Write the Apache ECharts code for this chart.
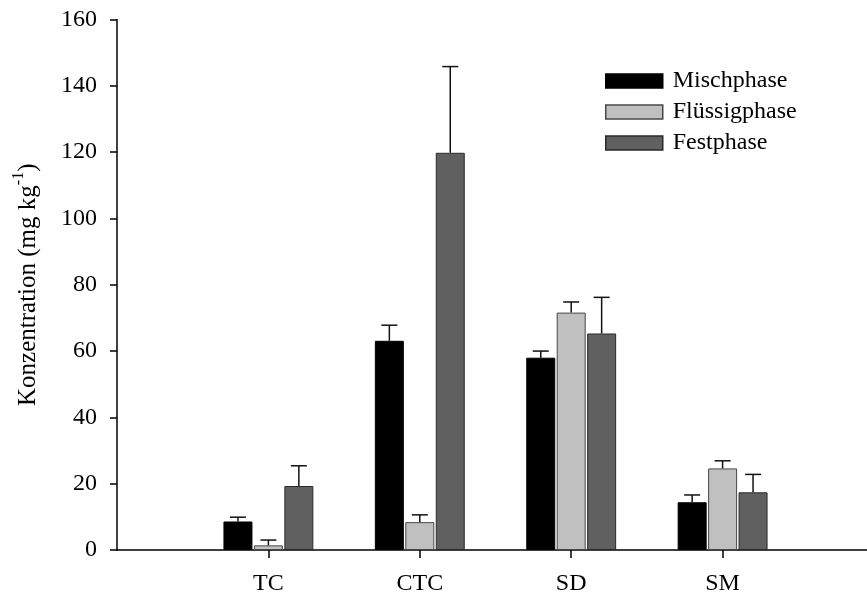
<!DOCTYPE html>
<html>
<head>
<meta charset="utf-8">
<script src="https://cdn.jsdelivr.net/npm/echarts@6/dist/echarts.min.js"></script>
<style>
  html, body { margin: 0; padding: 0; background: #fff; }
  #chart { width: 867px; height: 599px; }
</style>
</head>
<body>
<div id="chart"></div>
<script>
// Kategorien (leere Plätze links/rechts wie im Original)
const categories = ['', 'TC', 'CTC', 'SD', 'SM', ''];
const seriesNames = ['Mischphase', 'Flüssigphase', 'Festphase'];
// Mittelwerte je Kategorie (TC, CTC, SD, SM)
const misch = [8.6, 63.1, 58.0, 14.4];
const fluessig = [1.4, 8.4, 71.6, 24.6];
const fest = [19.3, 119.8, 65.3, 17.4];
// Fehlerbalken (nur nach oben)
const mischErr = [1.3, 4.7, 2.0, 2.2];
const fluessigErr = [1.6, 2.2, 3.2, 2.3];
const festErr = [6.1, 26.0, 10.9, 5.4];
const yTicks = [0, 20, 40, 60, 80, 100, 120, 140, 160];

const values = [misch, fluessig, fest];
const errors = [mischErr, fluessigErr, festErr];
const colors = ['#000000', '#c0c0c0', '#606060'];
const borders = ['#000000', '#484848', '#2a2a2a'];

const BAR_W = 29;
const GAP = 0.05;

const font = 'Liberation Serif';
const myChart = echarts.init(document.getElementById('chart'));

const barSeries = values.map((vals, k) => ({
    name: seriesNames[k],
    type: 'bar',
    barWidth: BAR_W,
    barGap: (GAP * 100) + '%',
    data: vals.map((v, i) => [i + 1, v]),
    itemStyle: {color: colors[k], borderColor: borders[k], borderWidth: 1},
    emphasis: {disabled: true},
    z: 2
}));

// Fehlerbalken als custom series, x-Versatz passend zur Balkengruppe
const errSeries = values.map((vals, k) => ({
    type: 'custom',
    name: seriesNames[k] + '_err',
    data: vals.map((v, i) => [i + 1, v, errors[k][i]]),
    z: 3,
    silent: true,
    renderItem: function (params, api) {
        const c = api.value(0);
        const v = api.value(1);
        const e = api.value(2);
        const p0 = api.coord([c, v]);
        const p1 = api.coord([c, v + e]);
        const total = 3 * BAR_W + 2 * GAP * BAR_W;
        const x = p0[0] - total / 2 + k * BAR_W * (1 + GAP) + BAR_W / 2;
        const capHalf = 8;
        const style = {stroke: '#111', lineWidth: 1.5};
        return {
            type: 'group',
            children: [
                {type: 'line', shape: {x1: x, y1: p0[1], x2: x, y2: p1[1]}, style: style},
                {type: 'line', shape: {x1: x - capHalf, y1: p1[1], x2: x + capHalf, y2: p1[1]}, style: style}
            ]
        };
    }
}));

myChart.setOption({
    animation: false,
    textStyle: {fontFamily: font, color: '#000'},
    grid: {left: 117, right: -7, top: 19.5, bottom: 49, containLabel: false, outerBoundsMode: 'none'},
    legend: {
        orient: 'vertical',
        left: 600,
        top: 64,
        icon: 'rect',
        itemWidth: 57,
        itemHeight: 14,
        itemGap: 7,
        data: seriesNames,
        itemStyle: {borderWidth: 1.5},
        textStyle: {fontFamily: font, fontSize: 24, color: '#000', padding: [0, 0, 0, 5]}
    },
    xAxis: {
        type: 'category',
        data: categories,
        boundaryGap: false,
        axisLine: {lineStyle: {color: '#000', width: 1.5}},
        axisTick: {
            length: 8,
            lineStyle: {color: '#000', width: 1.5},
            interval: (idx, val) => val !== ''
        },
        axisLabel: {
            fontFamily: font, fontSize: 24, color: '#000', margin: 22,
            interval: 0
        },
        splitLine: {show: false}
    },
    yAxis: {
        type: 'value',
        min: yTicks[0],
        max: yTicks[yTicks.length - 1],
        interval: 20,
        name: '{a|Konzentration (mg kg}{s|-1}{a|)}',
        nameLocation: 'middle',
        nameGap: 76,
        nameRotate: 90,
        nameTextStyle: {
            rich: {
                a: {fontFamily: font, fontSize: 25, color: '#000', lineHeight: 30, verticalAlign: 'bottom'},
                s: {fontFamily: font, fontSize: 16, color: '#000', lineHeight: 30, verticalAlign: 'top'}
            }
        },
        axisLine: {show: true, lineStyle: {color: '#000', width: 1.5}},
        axisTick: {show: true, length: 7, lineStyle: {color: '#000', width: 1.5}},
        axisLabel: {fontFamily: font, fontSize: 24, color: '#000', margin: 20},
        splitLine: {show: false}
    },
    series: barSeries.concat(errSeries)
});
</script>
</body>
</html>
